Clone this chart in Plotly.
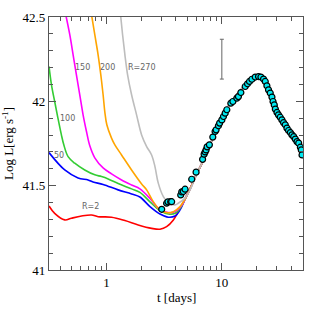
import math
import plotly.graph_objects as go

# ---- observed light curve (t in days, log L) ----
obs_t = [3.01, 3.32, 3.41, 3.60, 3.67, 4.40, 4.49, 4.63, 4.80, 5.48, 5.98, 6.81, 7.02, 7.16,
         7.30, 7.45, 7.80, 8.35, 8.74, 8.92, 9.34, 9.57, 10.0, 10.33, 10.69, 11.05, 11.97,
         12.47, 13.5, 13.93, 14.62, 15.95, 16.70, 17.38, 18.23, 19.48, 20.81, 21.83, 23.0,
         23.8, 24.6, 25.4, 26.3, 27.2, 27.8, 28.5, 29.1, 30.1, 31.0, 32.1, 33.2, 34.3, 35.5,
         36.7, 37.9, 39.3, 40.6, 42.0, 43.4, 44.9, 46.4, 48.0, 48.9, 49.6]
obs_L = [41.360, 41.396, 41.404, 41.405, 41.405, 41.445, 41.463, 41.465, 41.479, 41.538,
         41.580, 41.656, 41.687, 41.700, 41.712, 41.730, 41.742, 41.788, 41.821, 41.831,
         41.855, 41.871, 41.890, 41.910, 41.930, 41.950, 41.989, 41.999, 42.019, 42.028,
         42.052, 42.088, 42.104, 42.118, 42.131, 42.144, 42.147, 42.144, 42.132, 42.118,
         42.092, 42.068, 42.049, 42.025, 41.999, 41.979, 41.954, 41.934, 41.920, 41.906,
         41.890, 41.874, 41.861, 41.841, 41.827, 41.815, 41.801, 41.791, 41.776, 41.761,
         41.752, 41.728, 41.712, 41.682]

# ---- common late-time part of the models ----
tail_t = [4.80, 5.30, 6.06, 7.16, 8.24, 9.62, 11.75, 14.42, 17.62, 20.69, 23.35, 26.3, 32.1, 39.3, 50.6]
tail_L = [41.421, 41.481, 41.570, 41.671, 41.772, 41.878, 41.985, 42.062, 42.122, 42.145,
          42.134, 42.068, 41.920, 41.813, 41.700]

# ---- early parts of the models, by radius R ----
r2_t = [0.317, 0.355, 0.434, 0.496, 0.607, 0.741, 0.845, 1.105, 1.443, 1.883, 2.46, 2.91, 3.32, 3.80, 4.19]
r2_L = [41.380, 41.336, 41.297, 41.307, 41.320, 41.326, 41.316, 41.313, 41.293, 41.267,
        41.247, 41.242, 41.257, 41.297, 41.346]

r50_t = [0.317, 0.434, 0.566, 0.692, 0.764, 0.934, 1.261, 1.649, 1.948, 2.381, 2.91, 3.43, 3.93, 4.34]
r50_L = [41.696, 41.593, 41.546, 41.534, 41.522, 41.507, 41.475, 41.451, 41.433, 41.376,
         41.332, 41.313, 41.320, 41.356]

r100_t = [0.317, 0.333, 0.355, 0.379, 0.406, 0.426, 0.464, 0.530, 0.647, 0.791, 0.905, 1.033,
          1.261, 1.649, 1.948, 2.381, 2.91, 3.43, 3.93, 4.43]
r100_L = [42.207, 42.098, 41.999, 41.900, 41.801, 41.742, 41.672, 41.633, 41.593, 41.564,
          41.554, 41.540, 41.513, 41.481, 41.460, 41.404, 41.352, 41.332, 41.336, 41.374]

r150_t = [0.443, 0.480, 0.513, 0.548, 0.586, 0.626, 0.670, 0.716, 0.791, 0.934, 1.105, 1.350,
          1.649, 1.948, 2.381, 2.81, 3.21, 3.67, 4.06, 4.52]
r150_L = [42.513, 42.395, 42.276, 42.157, 42.039, 41.920, 41.821, 41.736, 41.665, 41.605,
          41.570, 41.534, 41.504, 41.481, 41.424, 41.366, 41.346, 41.340, 41.352, 41.386]

r200_t = [0.741, 0.791, 0.845, 0.892, 0.934, 0.966, 1.006, 1.105, 1.181, 1.350, 1.649, 2.015,
          2.228, 2.543, 2.91, 3.32, 3.80, 4.34]
r200_L = [42.513, 42.395, 42.276, 42.157, 42.039, 41.938, 41.861, 41.782, 41.742, 41.682,
          41.593, 41.510, 41.475, 41.405, 41.356, 41.340, 41.346, 41.376]

r270_t = [1.323, 1.378, 1.443, 1.523, 1.649, 1.822, 2.015, 2.228, 2.46, 2.63, 2.81, 3.11, 3.43,
          3.93, 4.19, 4.80, 5.30]
r270_L = [42.513, 42.395, 42.276, 42.157, 42.039, 41.920, 41.801, 41.732, 41.682, 41.613,
          41.515, 41.435, 41.399, 41.386, 41.396, 41.426, 41.475]

labels = ["R=2", "50", "100", "150", "200", "R=270"]
label_t = [0.73, 0.389, 0.461, 0.622, 1.016, 2.048]
label_L = [41.374, 41.677, 41.900, 42.201, 42.201, 42.201]

# error bar
err_t = [10.0]
err_L = [42.25]
err_size = [0.118]

x_tickvals = [1, 10]
x_ticktext = ["1", "10"]
x_minor = [0.4, 0.5, 0.6, 0.7, 0.8, 0.9, 2, 3, 4, 5, 6, 7, 8, 9, 20, 30, 40]
y_tickvals = [41, 41.5, 42, 42.5]
y_ticktext = ["41", "41.5", "42", "42.5"]

fig = go.Figure()

models = [
    (r2_t, r2_L, "#ff0000"),
    (r50_t, r50_L, "#0000ff"),
    (r100_t, r100_L, "#33cc33"),
    (r150_t, r150_L, "#ff00ff"),
    (r200_t, r200_L, "#ffa500"),
    (r270_t, r270_L, "#bdbdbd"),
]
for t, L, col in models:
    tt = list(t)
    LL = list(L)
    for a, b in zip(tail_t, tail_L):
        if a > tt[-1]:
            tt.append(a)
            LL.append(b)
    fig.add_trace(go.Scatter(x=tt, y=LL, mode="lines", line=dict(color=col, width=1.6),
                             line_shape="spline", hoverinfo="skip", showlegend=False))

fig.add_trace(go.Scatter(x=obs_t, y=obs_L, mode="markers",
                         marker=dict(color="#00e8f0", size=6, line=dict(color="black", width=1.2)),
                         showlegend=False))

fig.add_trace(go.Scatter(x=err_t, y=err_L, mode="lines",
                         error_y=dict(type="data", array=err_size, color="#666", thickness=1, width=2),
                         showlegend=False))

for txt, tx, ly in zip(labels, label_t, label_L):
    fig.add_annotation(x=math.log10(tx), y=ly, xref="x", yref="y", text=txt, showarrow=False,
                       font=dict(family="DejaVu Sans", size=8, color="#666666"))

fig.add_annotation(x=0.5, y=-0.11, xref="paper", yref="paper", text="t [days]", showarrow=False,
                   yanchor="middle",
                   font=dict(family="Liberation Serif", size=13, color="black"))

axis_common = dict(showline=True, linecolor="#555", linewidth=1.2, mirror="allticks",
                   ticks="inside", tickcolor="#555", showgrid=False, zeroline=False,
                   automargin=False,
                   tickfont=dict(family="Liberation Serif", size=13, color="black"))

fig.update_xaxes(type="log", range=[-0.499, 1.704], tickmode="array", tickvals=x_tickvals,
                 ticktext=x_ticktext, ticklen=7,
                 minor=dict(tickmode="array", tickvals=x_minor, ticks="inside", ticklen=4,
                            tickcolor="#555", showgrid=False),
                 **axis_common)
fig.update_yaxes(range=[41, 42.5], tickmode="array", tickvals=y_tickvals, ticktext=y_ticktext,
                 ticklen=7,
                 minor=dict(dtick=0.1, ticks="inside", ticklen=4, tickcolor="#555", showgrid=False),
                 title=dict(text="Log L[erg s<sup>-1</sup>]", standoff=8,
                            font=dict(family="Liberation Serif", size=13, color="black")),
                 **axis_common)

fig.update_layout(width=319, height=319, margin=dict(l=49, r=16, t=17, b=49),
                  paper_bgcolor="white", plot_bgcolor="white", showlegend=False)

fig.write_html("out.html", config={"displayModeBar": False},
               post_script="document.body.style.margin='0';document.body.style.padding='0';")
